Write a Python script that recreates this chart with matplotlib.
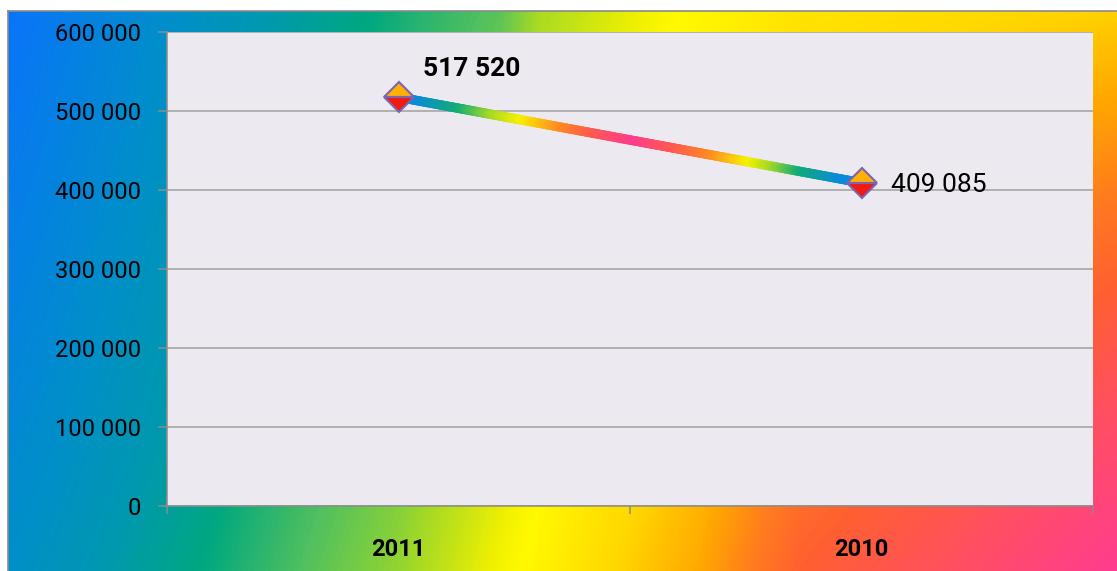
import numpy as np
import matplotlib
matplotlib.use('Agg')
from matplotlib import pyplot as plt
from matplotlib.colors import LinearSegmentedColormap
from matplotlib.collections import LineCollection
from matplotlib.lines import Line2D

years = ['2011', '2010']
values = [517520, 409085]
value_labels = ['517 520', '409 085']
y_ticks = [0, 100000, 200000, 300000, 400000, 500000, 600000]
y_tick_labels = ['0', '100 000', '200 000', '300 000', '400 000', '500 000', '600 000']

plt.rcParams['font.family'] = ['Roboto', 'DejaVu Sans']

W, H = 1117, 571
fig = plt.figure(figsize=(W / 100, H / 100), dpi=100, facecolor='white')

# rainbow background behind the chart: colour position blended from top row to bottom row
bg_cmap = LinearSegmentedColormap.from_list('bg', [
    (0.00, '#0A74FA'), (0.20, '#0090C8'), (0.27, '#0098B0'), (0.33, '#00A880'),
    (0.40, '#50C060'), (0.47, '#A0D828'), (0.55, '#F0F000'), (0.58, '#FFFA00'),
    (0.66, '#FFD800'), (0.72, '#FFA800'), (0.78, '#FF7A20'), (0.83, '#FF6030'),
    (0.90, '#FF5060'), (1.00, '#FF3C90')])
gx = np.arange(8, W)
top_t = np.interp(gx, [8, 160, 250, 300, 370, 430, 500, 540, 640, 680, 800, 1117],
                  [0.0, 0.18, 0.26, 0.29, 0.33, 0.37, 0.41, 0.48, 0.55, 0.58, 0.63, 0.67])
bot_t = np.interp(gx, [8, 100, 200, 300, 400, 480, 520, 600, 700, 800, 950, 1117],
                  [0.20, 0.27, 0.33, 0.40, 0.46, 0.54, 0.58, 0.65, 0.72, 0.83, 0.90, 1.00])
v = np.linspace(0, 1, H - 11)[:, None]
bg = fig.add_axes([8 / W, 0, (W - 8) / W, (H - 11) / H])
bg.imshow(bg_cmap((1 - v) * top_t[None, :] + v * bot_t[None, :]), aspect='auto',
          interpolation='bilinear')
bg.axis('off')
fig.add_artist(Line2D([8 / W, 8 / W], [0, (H - 11) / H], color='#8A8A8A', lw=1.2))
fig.add_artist(Line2D([8 / W, 1], [(H - 11) / H, (H - 11) / H], color='#8A8A8A', lw=1.2))

ax = fig.add_axes([167 / W, 65 / H, 926 / W, 474 / H], facecolor='#ECE9F0')
xs = np.arange(len(years)) + 0.5
ax.set_xlim(0, len(years))
ax.set_ylim(y_ticks[0], y_ticks[-1])

# gradient line between the two points
line_cmap = LinearSegmentedColormap.from_list('ln', [
    (0.00, '#0A8ADA'), (0.04, '#0A8ADA'), (0.13, '#10AC78'), (0.20, '#A0D828'),
    (0.265, '#F6F200'), (0.35, '#FF8C20'), (0.42, '#FF5A50'), (0.51, '#FF3C8C'),
    (0.60, '#FF5A50'), (0.68, '#FF8C20'), (0.76, '#F6F200'), (0.81, '#A0D828'),
    (0.87, '#10AC78'), (0.96, '#0A8ADA'), (1.00, '#0A8ADA')])
t = np.linspace(0, 1, 301)
px = xs[0] + t * (xs[1] - xs[0])
py = values[0] + t * (values[1] - values[0])
pts = np.column_stack([px, py]).reshape(-1, 1, 2)
segs = np.concatenate([pts[:-1], pts[1:]], axis=1)
lc = LineCollection(segs, colors=line_cmap(t[:-1]), linewidths=6.8, capstyle='round', zorder=3)
ax.add_collection(lc)

ax.plot(xs, values, linestyle='none', marker='D', markersize=15, fillstyle='top',
        markerfacecolor='#FFB000', markerfacecoloralt='#F01A10',
        markeredgecolor='#7A64B4', markeredgewidth=1.5, zorder=4)

ax.annotate(value_labels[0], (xs[0], values[0]), xytext=(53, 20), textcoords='offset points',
            ha='center', va='center', fontsize=19, fontweight='bold', color='black')
ax.annotate(value_labels[1], (xs[1], values[1]), xytext=(21, -1.5), textcoords='offset points',
            ha='left', va='center', fontsize=19, color='black')

ax.set_yticks(y_ticks, y_tick_labels)
ax.tick_params(axis='y', length=6.5, width=1.1, color='#8C8C8C', pad=12, labelsize=17)
ax.set_xticks(np.arange(len(years) + 1), [''] * (len(years) + 1))
ax.tick_params(axis='x', which='major', length=6, width=1.1, color='#8C8C8C')
ax.set_xticks(xs, years, minor=True)
ax.tick_params(axis='x', which='minor', length=0, pad=23, labelsize=17)
for lbl in ax.get_xticklabels(minor=True):
    lbl.set_fontweight('bold')

ax.grid(axis='y', color='#A0A0A0', lw=1.1)
ax.set_axisbelow(True)
for side in ['top', 'right']:
    ax.spines[side].set_visible(False)
for side in ['left', 'bottom']:
    ax.spines[side].set_color('#8C8C8C')
    ax.spines[side].set_linewidth(1.1)

fig.savefig('out.png', dpi=100)
